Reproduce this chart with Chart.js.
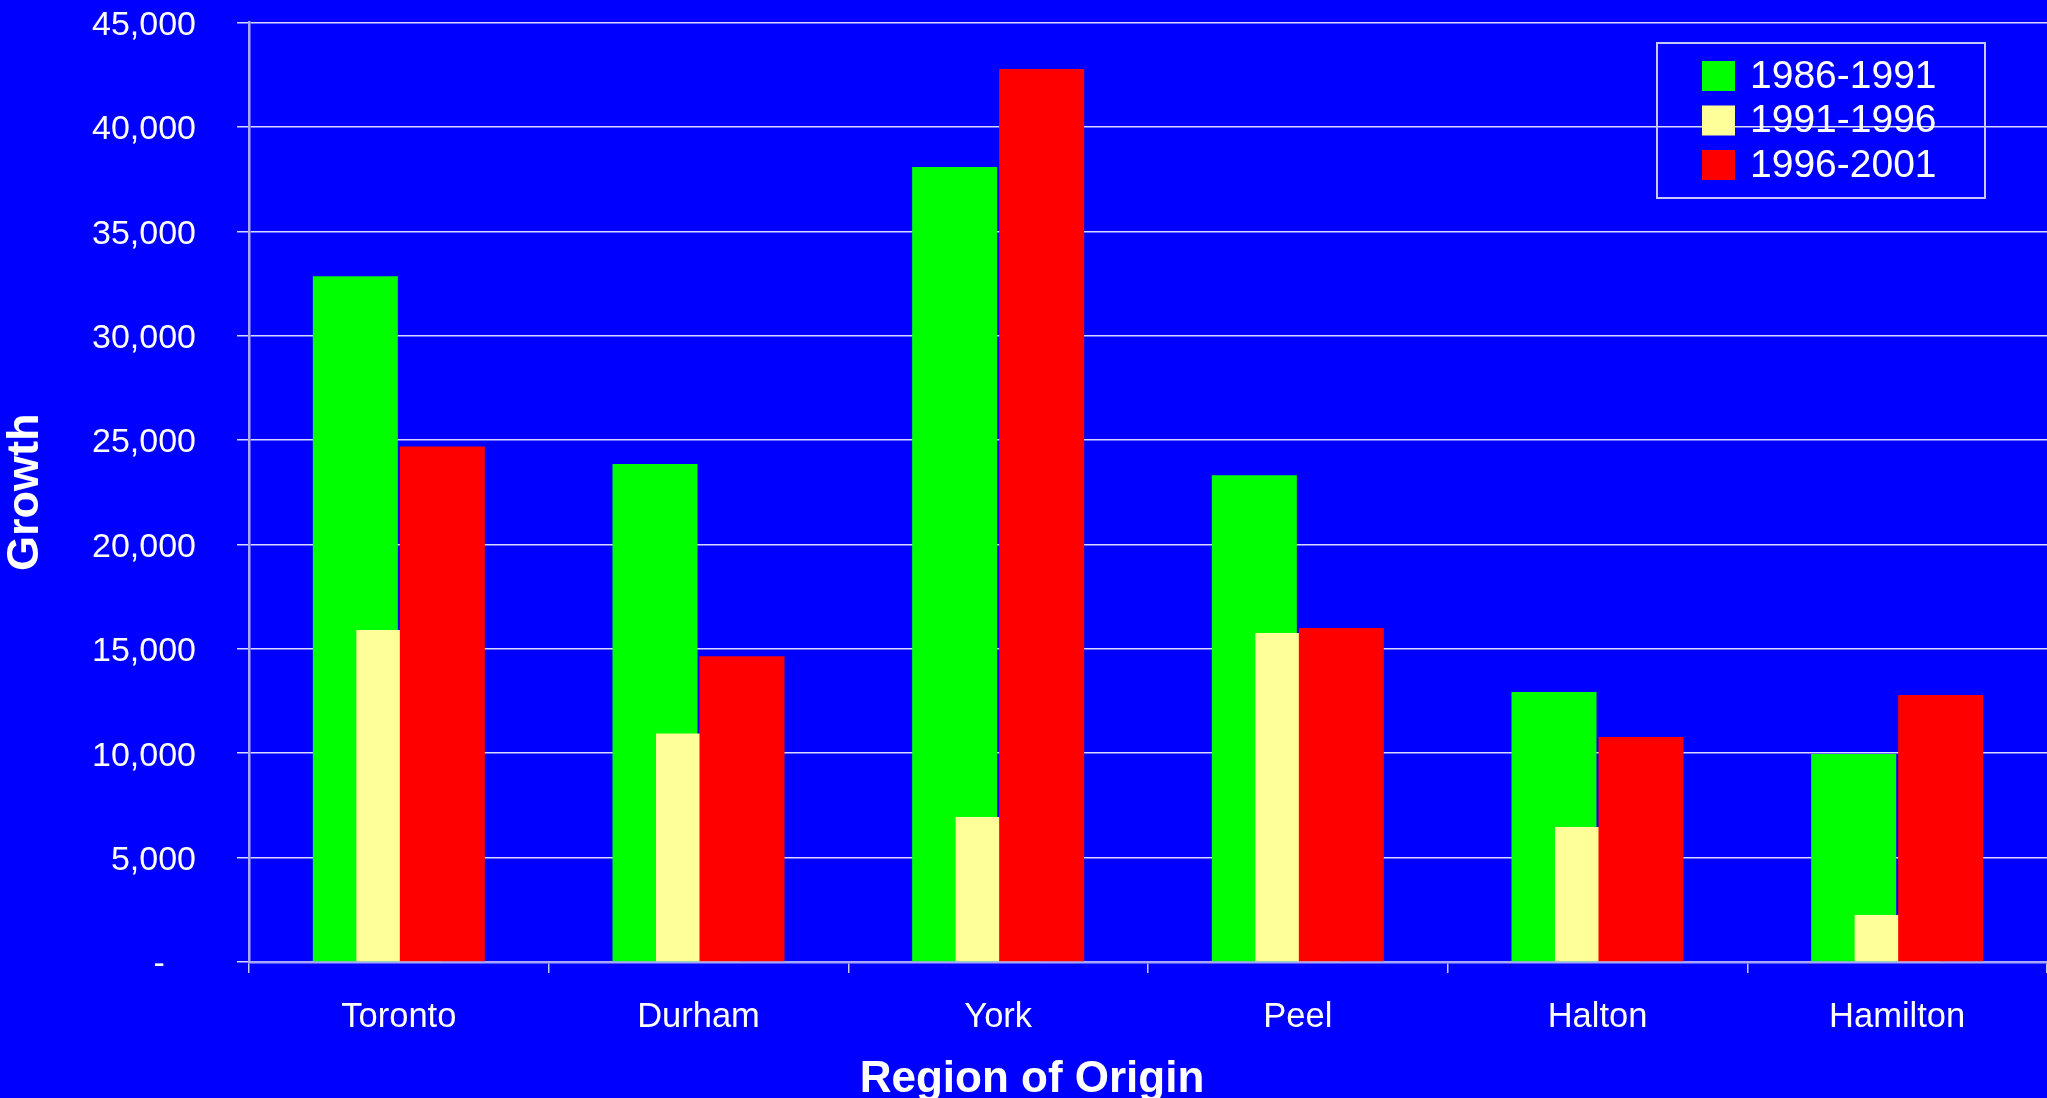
<!DOCTYPE html>
<html>
<head>
<meta charset="utf-8">
<title>Growth by Region of Origin</title>
<script src="https://cdn.jsdelivr.net/npm/chart.js@4.4.1/dist/chart.umd.min.js"></script>
<style>
    html, body { margin: 0; padding: 0; background: #0000FF; overflow: hidden; }
    #wrap { width: 2047px; height: 1098px; }
</style>
</head>
<body>
<div id="wrap"><canvas id="growthChart" width="2047" height="1098"></canvas></div>
<script>
// ============================================
// Data
// ============================================
const regions = ["Toronto", "Durham", "York", "Peel", "Halton", "Hamilton"];
const periods = ["1986-1991", "1991-1996", "1996-2001"];
const growth8691 = [32850, 23850, 38080, 23320, 12930, 9960];
const growth9196 = [15900, 10950, 6940, 15760, 6470, 2250];
const growth9601 = [24690, 14650, 42770, 16000, 10780, 12790];
const periodColors = ["#00FF00", "#FFFF99", "#FF0000"];
const yMax = 45000;
const yStep = 5000;

const FONT = "'Liberation Sans', Arial, sans-serif";

// ============================================
// Plugins
// ============================================
// Excel-style overlap: each later series is painted over the one before it
const paintInSeriesOrder = {
    id: "paintInSeriesOrder",
    beforeDatasetsDraw(chart) {
        chart.data.datasets.forEach((ds, i) => {
            if (chart.isDatasetVisible(i)) chart.getDatasetMeta(i).controller.draw();
        });
        return false;
    },
};

// Boxed legend in the top right corner of the plot
const boxedLegend = {
    id: "boxedLegend",
    afterDraw(chart) {
        const ctx = chart.ctx;
        const area = chart.chartArea;
        const w = 328, h = 155;
        const left = area.right - 62 - w;
        const top = area.top + 20.5;
        ctx.save();
        ctx.strokeStyle = "#C8C8FF";
        ctx.lineWidth = 2;
        ctx.strokeRect(left, top, w, h);
        ctx.font = "39px " + FONT;
        ctx.textBaseline = "middle";
        chart.data.datasets.forEach((ds, i) => {
            const cy = top + 33 + i * 44.5;
            ctx.fillStyle = ds.backgroundColor;
            ctx.fillRect(left + 45, cy - 15, 33, 30);
            ctx.fillStyle = "#FFFFFF";
            ctx.fillText(ds.label, left + 93, cy + 1);
        });
        ctx.restore();
    },
};

// ============================================
// Chart
// ============================================
const seriesValues = [growth8691, growth9196, growth9601];

new Chart(document.getElementById("growthChart"), {
    type: "bar",
    data: {
        labels: regions,
        datasets: periods.map((p, i) => ({
            label: p,
            data: seriesValues[i],
            backgroundColor: periodColors[i],
            borderWidth: 0,
            categoryPercentage: 0.4355,
            barPercentage: 1.954,
        })),
    },
    options: {
        responsive: false,
        animation: false,
        events: [],
        layout: { padding: { top: 22.5, left: 17, right: 0, bottom: 0 } },
        plugins: {
            legend: { display: false },
            tooltip: { enabled: false },
            title: {
                display: true,
                position: "bottom",
                text: "Region of Origin",
                color: "#FFFFFF",
                font: { family: FONT, size: 44, weight: "bold", lineHeight: 1 },
                padding: { top: 4, bottom: -4 },
            },
        },
        scales: {
            x: {
                ticks: {
                    color: "#FFFFFF",
                    font: { family: FONT, size: 34.5 },
                    padding: 24,
                    maxRotation: 0,
                    autoSkip: false,
                },
                grid: {
                    drawOnChartArea: false,
                    tickLength: 11,
                    color: "#C8C8FF",
                    lineWidth: 1.5,
                    offset: true,
                },
                border: { color: "#A8A8FF", width: 2.5 },
                afterFit(scale) {
                    scale.height = 92;
                    scale.paddingLeft = 0;
                    scale.paddingRight = 0;
                },
            },
            y: {
                min: 0,
                max: yMax,
                ticks: {
                    stepSize: yStep,
                    color: "#FFFFFF",
                    font: { family: FONT, size: 34 },
                    padding: 41,
                    labelOffset: 3,
                    callback: (v) => (v === 0 ? "-   \u200A" : v.toLocaleString("en-US")),
                },
                grid: { color: "#D8D8FF", lineWidth: 1.5, tickLength: 12 },
                border: { color: "#A8A8FF", width: 2.5 },
                title: {
                    display: true,
                    text: "Growth",
                    color: "#FFFFFF",
                    font: { family: FONT, size: 45, weight: "bold", lineHeight: 1 },
                    padding: { top: -13.5, bottom: 0 },
                },
                afterFit(scale) {
                    scale.width = 232;
                    scale.paddingTop = 0;
                    scale.paddingBottom = 0;
                },
            },
        },
    },
    plugins: [paintInSeriesOrder, boxedLegend],
});
</script>
</body>
</html>
